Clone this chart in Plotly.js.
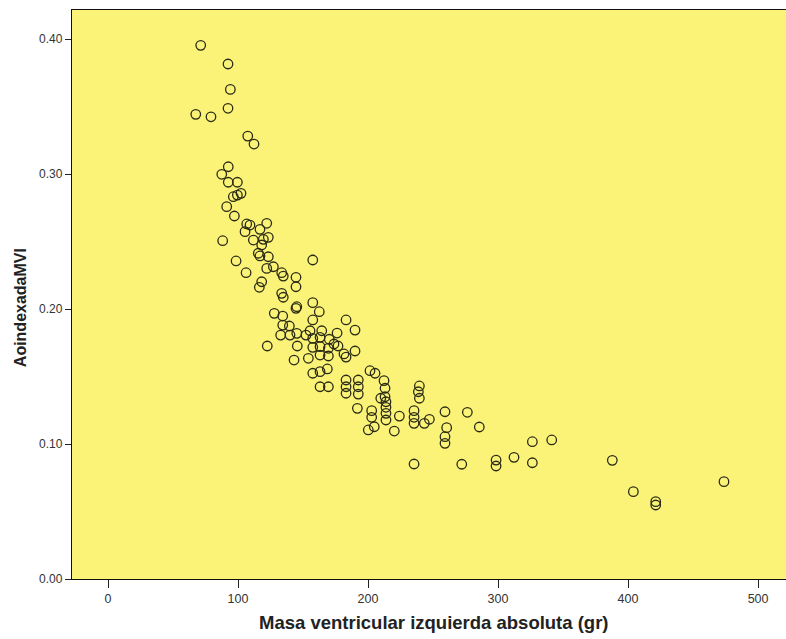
<!DOCTYPE html>
<html>
<head>
<meta charset="utf-8">
<script src="https://cdn.plot.ly/plotly-3.0.1.min.js"></script>
<style>html,body{margin:0;padding:0;background:#fff;}#chart{width:786px;height:639px;}</style>
</head>
<body>
<div id="chart"></div>
<script>
// Masa ventricular izquierda absoluta (gr)
const masaVI = [
  71.3, 92.3, 94.1, 92.3, 67.5, 79.2, 107.5, 112.3,
  92.5, 87.5, 92.5, 99.5, 102.3, 99.5, 96.4, 91.3, 97.2, 106.7, 109.2, 105.4,
  122.1, 116.9, 88.2, 111.8, 119.5, 123.3, 118.2, 98.5, 116.9,
  115.6, 123.3, 157.5, 106.2, 122.1, 127.2, 133.6, 134.8, 144.6, 144.6,
  118.2, 116.4, 133.6, 134.8, 145.2, 144.6, 157.5, 162.5, 127.9, 134.4,
  157.5, 134.4, 139.5, 132.8, 140.0, 145.2, 152.3, 155.4, 164.4, 157.5,
  163.1, 170.2, 122.5, 145.6, 157.5, 163.1, 169.5, 169.5, 163.1, 143.1,
  154.1, 157.5, 163.1, 168.7, 163.1, 169.5, 183.1,
  176.2, 190.0, 173.8, 176.9, 181.5, 183.1, 190.0,
  201.5, 205.4, 183.1, 183.1, 183.1, 192.5, 192.5, 192.5, 212.3, 213.1,
  213.1, 209.8, 213.8, 213.8, 191.8, 202.8, 202.8, 213.8, 213.8, 224.1,
  239.5, 238.7, 239.5, 235.4, 235.4, 235.4, 243.3, 247.2, 259.2, 276.4,
  260.5, 259.2, 259.2, 285.6, 200.2, 204.8, 220.2, 235.4, 272.1,
  298.5, 298.5, 312.3, 326.4, 326.4, 341.3,
  387.9, 404.1, 421.3, 421.3, 473.8
];
// AoindexadaMVI
const aoIndexadaMVI = [
  0.3953, 0.3815, 0.3627, 0.3487, 0.3442, 0.3424, 0.3281, 0.3222,
  0.3054, 0.2998, 0.2939, 0.2939, 0.2857, 0.2844, 0.2832, 0.2758, 0.2689, 0.2630, 0.2622, 0.2573,
  0.2635, 0.2590, 0.2506, 0.2511, 0.2516, 0.2531, 0.2474, 0.2356, 0.2393,
  0.2413, 0.2387, 0.2363, 0.2269, 0.2301, 0.2313, 0.2269, 0.2244, 0.2235, 0.2165,
  0.2202, 0.2161, 0.2116, 0.2087, 0.2017, 0.2005, 0.2047, 0.1980, 0.1968, 0.1948,
  0.1919, 0.1881, 0.1874, 0.1807, 0.1807, 0.1820, 0.1807, 0.1839, 0.1839, 0.1783,
  0.1790, 0.1776, 0.1726, 0.1726, 0.1716, 0.1721, 0.1709, 0.1652, 0.1659, 0.1622,
  0.1635, 0.1524, 0.1536, 0.1556, 0.1424, 0.1424, 0.1919,
  0.1822, 0.1844, 0.1741, 0.1726, 0.1667, 0.1644, 0.1689,
  0.1543, 0.1524, 0.1474, 0.1424, 0.1376, 0.1474, 0.1424, 0.1370, 0.1469, 0.1413,
  0.1350, 0.1339, 0.1313, 0.1272, 0.1264, 0.1247, 0.1198, 0.1227, 0.1178, 0.1207,
  0.1430, 0.1387, 0.1339, 0.1247, 0.1198, 0.1153, 0.1153, 0.1183, 0.1239, 0.1235,
  0.1121, 0.1054, 0.1005, 0.1126, 0.1104, 0.1128, 0.1096, 0.0852, 0.0850,
  0.0881, 0.0837, 0.0901, 0.0861, 0.1017, 0.1030,
  0.0879, 0.0647, 0.0573, 0.0548, 0.0721
];
const xTicks = [0, 100, 200, 300, 400, 500];
const yTicks = [0.0, 0.1, 0.2, 0.3, 0.4];
const xTickLabels = ["0", "100", "200", "300", "400", "500"];
const yTickLabels = ["0.00", "0.10", "0.20", "0.30", "0.40"];
const xTitle = 'Masa ventricular izquierda absoluta (gr)';
const yTitle = 'AoindexadaMVI';

const trace = {
  x: masaVI,
  y: aoIndexadaMVI,
  type: 'scatter',
  mode: 'markers',
  marker: {symbol: 'circle-open', size: 9.5, color: '#2a2a14', line: {width: 1.3, color: '#2a2a14'}},
  hoverinfo: 'x+y'
};

const titleFont = 'Liberation Sans, Arial, sans-serif';

const layout = {
  width: 786, height: 639,
  margin: {l: 72, r: 0, t: 10, b: 60},
  paper_bgcolor: '#ffffff',
  plot_bgcolor: '#FAF377',
  showlegend: false,
  font: {family: 'Liberation Sans, Arial, sans-serif', color: '#222'},
  xaxis: {
    range: [-27.7, 521.5],
    tickmode: 'array', tickvals: xTicks, ticktext: xTickLabels,
    ticks: 'outside', ticklen: 8, tickcolor: '#222', tickwidth: 1,
    showgrid: false, zeroline: false,
    showline: true, linecolor: '#111', linewidth: 1.2, mirror: true,
    tickfont: {size: 12.5, color: '#333', family: 'Liberation Sans Narrow, Liberation Sans, Arial, sans-serif'}
  },
  yaxis: {
    range: [0, 0.4215],
    tickmode: 'array', tickvals: yTicks, ticktext: yTickLabels,
    ticks: 'outside', ticklen: 6, tickcolor: '#222', tickwidth: 1,
    showgrid: false, zeroline: false,
    showline: true, linecolor: '#111', linewidth: 1.2, mirror: false,
    tickfont: {size: 12, color: '#333'}
  },
  annotations: [
    {text: '<b>' + xTitle + '</b>', xref: 'paper', yref: 'paper', x: 0.507, y: -0.0756,
     xanchor: 'center', yanchor: 'middle', showarrow: false,
     font: {size: 18.5, color: '#222', family: titleFont}},
    {text: '<b>' + yTitle + '</b>', xref: 'paper', yref: 'paper', x: -0.0728, y: 0.476,
     xanchor: 'center', yanchor: 'middle', showarrow: false, textangle: -90,
     font: {size: 16, color: '#222', family: titleFont}}
  ]
};

Plotly.newPlot('chart', [trace], layout, {displayModeBar: false, staticPlot: true});
</script>
</body>
</html>
